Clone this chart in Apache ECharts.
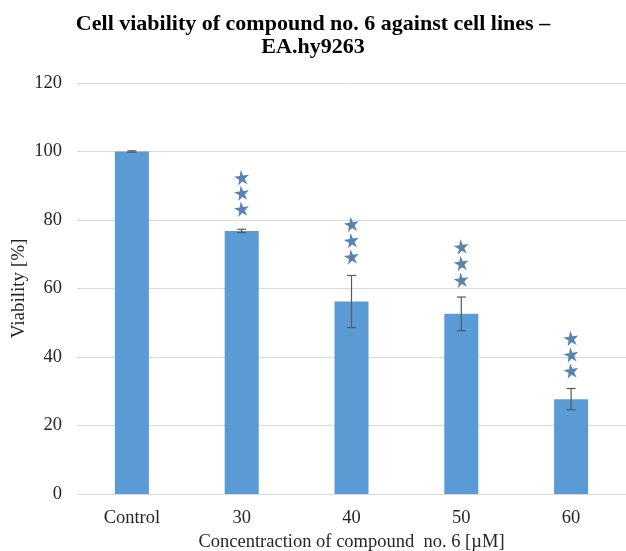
<!DOCTYPE html>
<html>
<head>
<meta charset="utf-8">
<script src="https://cdn.jsdelivr.net/npm/echarts@6/dist/echarts.min.js"></script>
<style>
  html, body { margin: 0; padding: 0; background: #fff; }
  #chart { width: 626px; height: 551px; }
</style>
</head>
<body>
<div id="chart"></div>
<script>
const categories = ["Control", "30", "40", "50", "60"];
const viability = [100, 76.8, 56.2, 52.6, 27.7];
const errors = [0.2, 0.5, 7.6, 4.9, 3.1];
// significance stars, value position of each star per category
const starLevels = [
  [],
  [83.2, 87.9, 92.4],
  [69.3, 74.0, 78.8],
  [62.5, 67.4, 72.2],
  [36.0, 40.7, 45.5],
];
const yTicks = { min: 0, max: 120, interval: 20 };

const serif = "'Liberation Serif', 'DejaVu Serif', serif";
const starPath =
  "path://M50,0 L61,35 L98,35 L68,57 L79,91 L50,70 L21,91 L32,57 L2,35 L39,35 Z";

const errorData = viability.map((v, i) => [i, v - errors[i], v + errors[i]]);
const starData = [];
starLevels.forEach((list, i) => list.forEach((y) => starData.push([i, y])));

const chart = echarts.init(document.getElementById("chart"));

chart.setOption({
  animation: false,
  title: {
    text: "Cell viability of compound no. 6 against cell lines –\nEA.hy9263",
    left: "center",
    top: 8,
    textStyle: {
      fontFamily: serif,
      fontWeight: "bold",
      fontSize: 22,
      lineHeight: 23,
      color: "#000",
    },
  },
  grid: { left: 77, right: 0, top: 83, bottom: 57, outerBoundsMode: "none", containLabel: false },
  xAxis: {
    type: "category",
    data: categories,
    name: "Concentraction of compound  no. 6 [µM]",
    nameLocation: "middle",
    nameGap: 37,
    nameTextStyle: { fontFamily: serif, fontSize: 18.5, color: "#262626" },
    axisLine: { lineStyle: { color: "#D9D9D9" } },
    axisTick: { show: false },
    axisLabel: {
      fontFamily: serif,
      fontSize: 18.5,
      color: "#262626",
      margin: 15,
    },
  },
  yAxis: {
    type: "value",
    min: yTicks.min,
    max: yTicks.max,
    interval: yTicks.interval,
    name: "Viability [%]",
    nameLocation: "middle",
    nameGap: 48,
    nameMoveOverlap: false,
    nameTextStyle: { fontFamily: serif, fontSize: 19, color: "#262626" },
    axisLine: { show: false },
    axisTick: { show: false },
    axisLabel: {
      fontFamily: serif,
      fontSize: 18.5,
      color: "#262626",
      margin: 15,
    },
    splitLine: { lineStyle: { color: "#D9D9D9", width: 1 } },
  },
  series: [
    {
      type: "bar",
      data: viability,
      barWidth: "31%",
      itemStyle: { color: "#5B9BD5" },
    },
    {
      type: "custom",
      data: errorData,
      z: 5,
      renderItem: (params, api) => {
        const lo = api.coord([api.value(0), api.value(1)]);
        const hi = api.coord([api.value(0), api.value(2)]);
        const cap = 4.5;
        const style = { stroke: "#595959", lineWidth: 1.2 };
        return {
          type: "group",
          children: [
            { type: "line", shape: { x1: lo[0], y1: lo[1], x2: hi[0], y2: hi[1] }, style },
            { type: "line", shape: { x1: hi[0] - cap, y1: hi[1], x2: hi[0] + cap, y2: hi[1] }, style },
            { type: "line", shape: { x1: lo[0] - cap, y1: lo[1], x2: lo[0] + cap, y2: lo[1] }, style },
          ],
        };
      },
    },
    {
      type: "scatter",
      data: starData,
      symbol: starPath,
      symbolSize: 15,
      symbolRotate: 8,
      z: 6,
      itemStyle: { color: "#2F64A0" },
    },
  ],
});
</script>
</body>
</html>
